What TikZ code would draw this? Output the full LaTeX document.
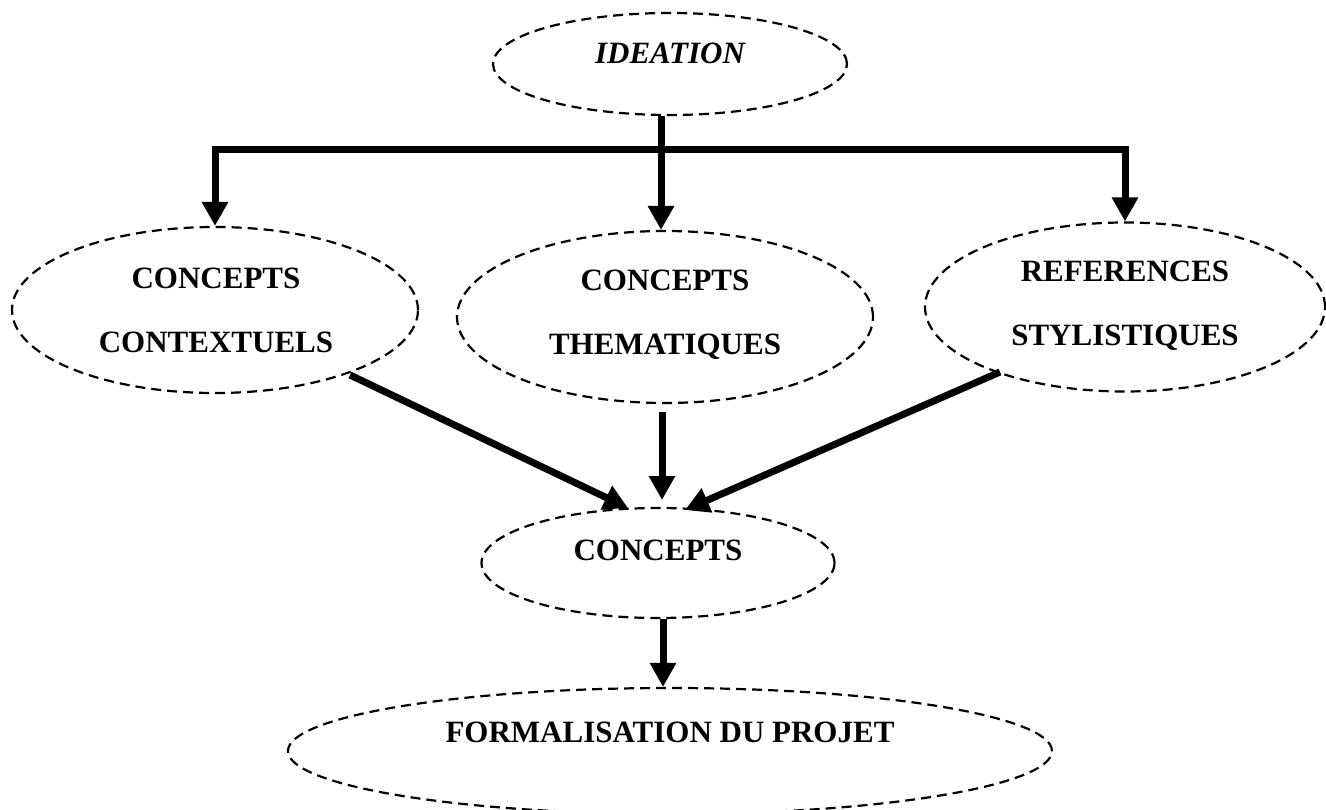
\documentclass[tikz,border=0pt]{standalone}
\usepackage{fontspec}
\setmainfont{Liberation Serif}
\usetikzlibrary{arrows.meta,shapes.geometric}
\tikzset{
  oval/.style={ellipse, draw=black, dash pattern=on 10pt off 6pt, line width=2.2pt, inner sep=0pt},
  lbl/.style={align=center, font=\fontsize{31}{64}\selectfont\bfseries, inner sep=0pt},
  arr/.style={line width=7pt, line join=miter, -{Triangle[length=24pt,width=25pt]}},
  bar/.style={line width=7pt, line join=miter}
}
\begin{document}
\begin{tikzpicture}[x=1pt,y=-1pt]
\useasboundingbox (0,0) rectangle (1326,810);
% ellipses
\node[oval, minimum width=354pt, minimum height=102pt] (ideation) at (670,64) {};
\node[oval, minimum width=406pt, minimum height=166pt] (ctx) at (215,310) {};
\node[oval, minimum width=416pt, minimum height=172pt] (them) at (665,317) {};
\node[oval, minimum width=400pt, minimum height=169pt] (ref) at (1125,307) {};
\node[oval, minimum width=353pt, minimum height=110pt] (conc) at (658,563) {};
\node[oval, minimum width=764pt, minimum height=126pt] (form) at (670,751) {};
% texts
\node[lbl, font=\fontsize{31}{64}\selectfont\bfseries\itshape] (tideation) at (670,53) {IDEATION};
\node[lbl] (tctx) at (216,310) {CONCEPTS\\CONTEXTUELS};
\node[lbl] (tthem) at (665,315) {CONCEPTS\\THEMATIQUES};
\node[lbl] (tref) at (1125,306) {REFERENCES\\STYLISTIQUES};
\node[lbl] (tconc) at (658,550) {CONCEPTS};
\node[lbl] (tform) at (670,732) {FORMALISATION DU PROJET};
% bus
\coordinate (bus) at (661,150);
\draw[arr] (ideation.south -| bus) -- (them.north -| bus);
\draw[arr] (bus) -- (bus -| ctx.north) -- (ctx.north);
\draw[arr] (bus) -- (bus -| ref.north) -- (ref.north);
% converging arrows
\coordinate (cL) at (628,508);
\coordinate (cR) at (685,510);
\coordinate (sL) at (350,375);
\coordinate (sR) at (1000,372);
\draw[arr] (sL) -- (cL);
\draw[arr] (sR) -- (cR);
\draw[arr] (662,412) -- (662,500);
\draw[arr] (conc.south -| 663,0) -- (form.north -| 663,0);
\end{tikzpicture}
\end{document}
